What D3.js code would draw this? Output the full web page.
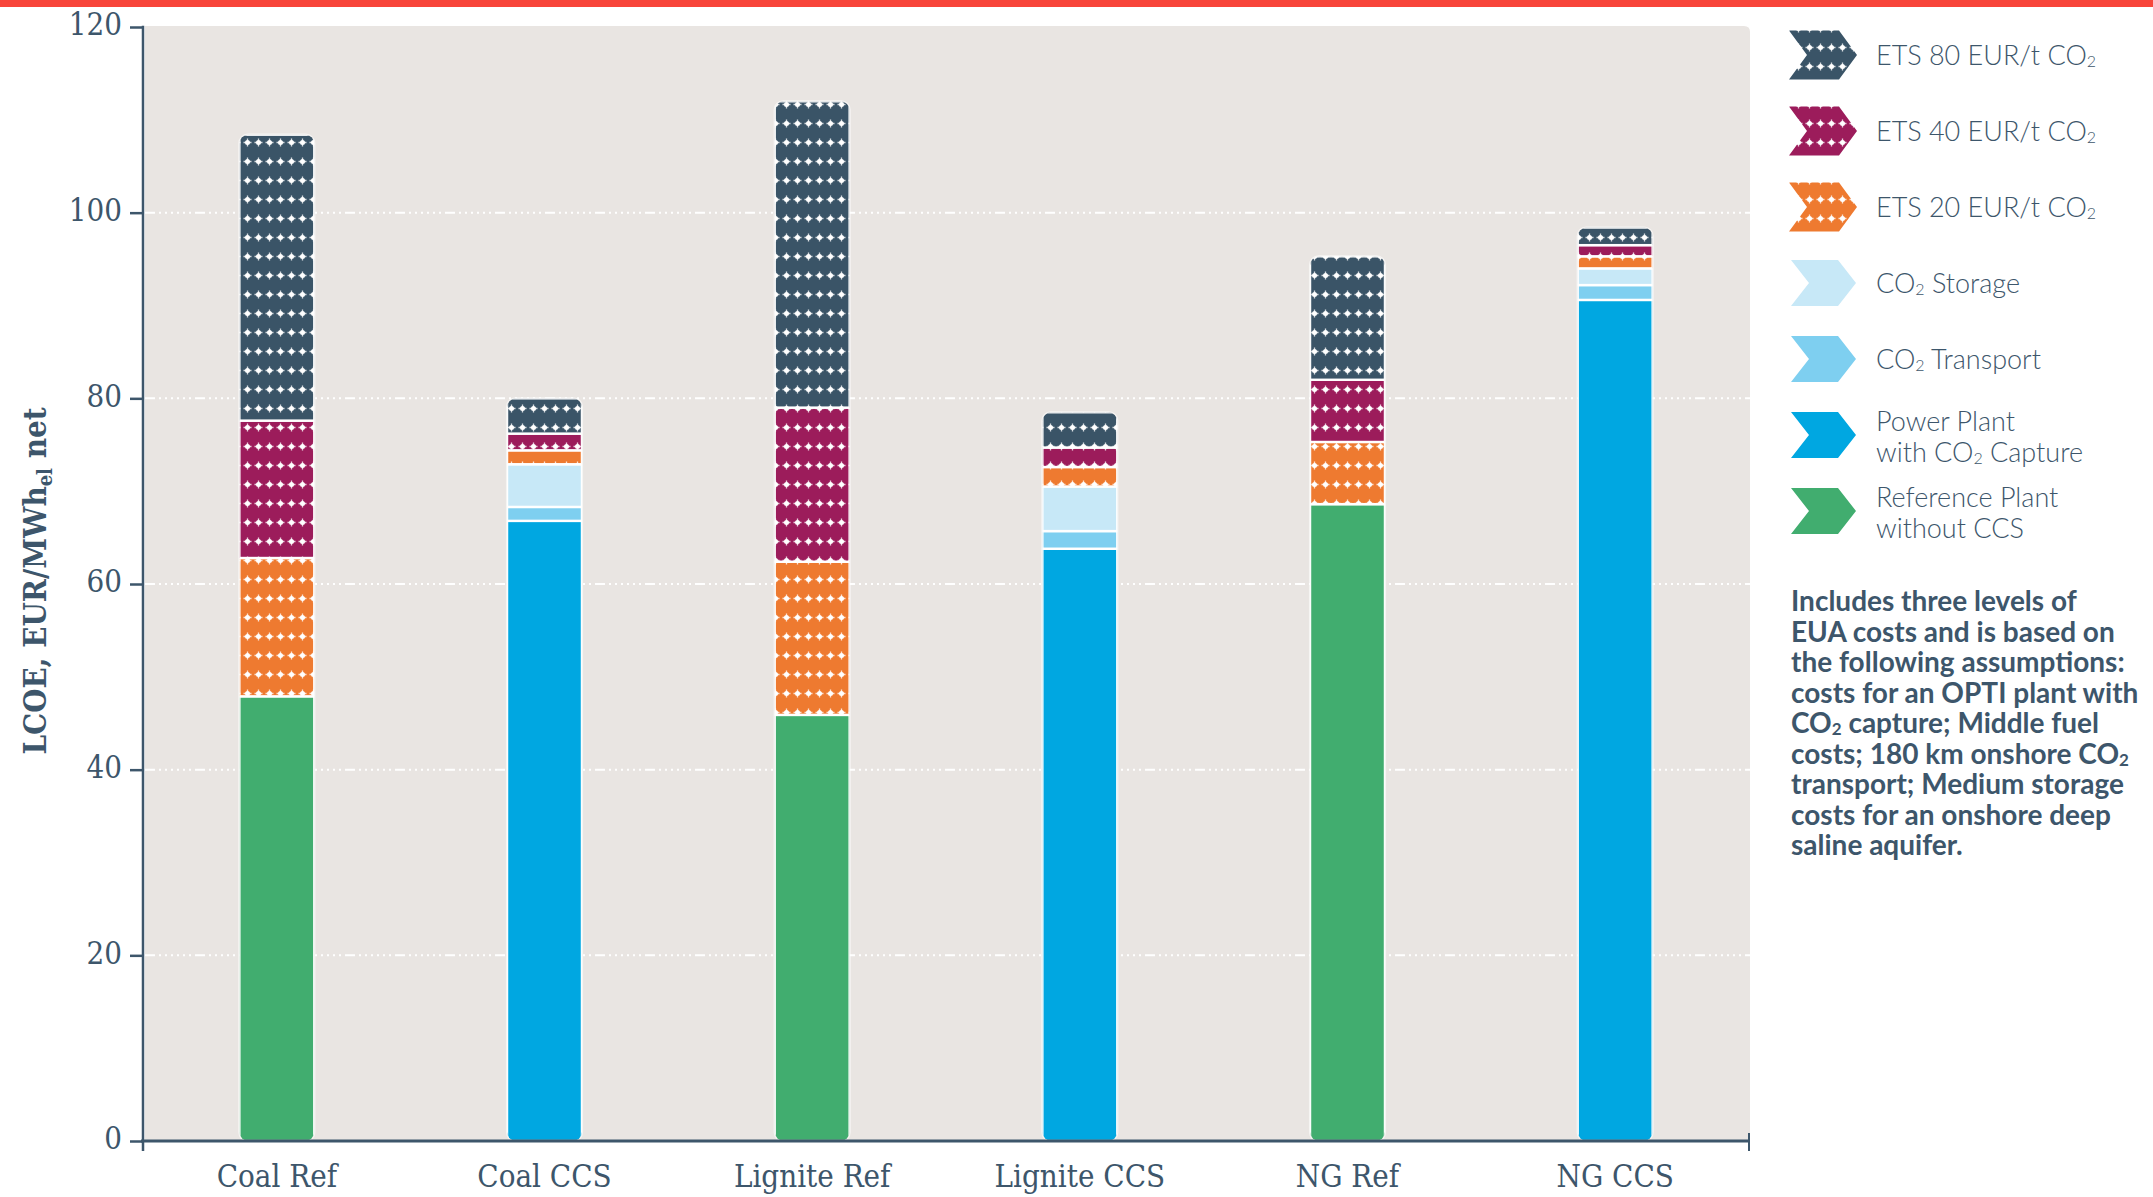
<!DOCTYPE html>
<html>
<head>
<meta charset="utf-8">
<script src="https://cdn.jsdelivr.net/npm/d3@7"></script>
<style>
  html, body { margin: 0; padding: 0; background: #fff; }
  svg { display: block; }
</style>
</head>
<body>
<svg id="chart" width="2153" height="1197"></svg>
<script>
// ---------------- DATA ----------------
const categories = ["Coal Ref", "Coal CCS", "Lignite Ref", "Lignite CCS", "NG Ref", "NG CCS"];
const referencePlant = [47.9, 0, 45.9, 0, 68.6, 0];
const powerPlantCapture = [0, 66.8, 0, 63.8, 0, 90.6];
const co2Transport = [0, 1.5, 0, 1.9, 0, 1.6];
const co2Storage = [0, 4.6, 0, 4.8, 0, 1.8];
const ets20 = [14.9, 1.5, 16.5, 2.1, 6.7, 1.3];
const ets40 = [14.8, 1.8, 16.6, 2.1, 6.7, 1.2];
const ets80 = [30.8, 3.8, 33.0, 3.8, 13.3, 1.9];
const yTicks = [0, 20, 40, 60, 80, 100, 120];
const gridTicks = [20, 40, 60, 80, 100];
const seriesKeys = ["ref", "power", "transport", "storage", "ets20", "ets40", "ets80"];
const legendKeys = ["ets80", "ets40", "ets20", "storage", "transport", "power", "ref"];
const legendLines = [
  [["ETS 80 EUR/t CO", "2"]],
  [["ETS 40 EUR/t CO", "2"]],
  [["ETS 20 EUR/t CO", "2"]],
  [["CO", "2", " Storage"]],
  [["CO", "2", " Transport"]],
  [["Power Plant"], ["with CO", "2", " Capture"]],
  [["Reference Plant"], ["without CCS"]]
];
const noteLines = [
  ["Includes three levels of"],
  ["EUA costs and is based on"],
  ["the following assumptions:"],
  ["costs for an OPTI plant with"],
  ["CO", "2", " capture; Middle fuel"],
  ["costs; 180 km onshore CO", "2"],
  ["transport; Medium storage"],
  ["costs for an onshore deep"],
  ["saline aquifer."]
];
const yLabelParts = ["LCOE, EUR/MWh", "el", " net"];

// ---------------- STYLE ----------------
const colors = {
  ets80: "#3a5467", ets40: "#9c1c5b", ets20: "#ee7a30",
  storage: "#c7e8f7", transport: "#7ecff0", power: "#00a7e1", ref: "#41ad6f"
};
const patterned = new Set(["ets80", "ets40", "ets20"]);
const axisColor = "#3d566b";
const serif = "'DejaVu Serif Condensed', 'DejaVu Serif', serif";
const sans = "Lato, 'Open Sans', sans-serif";

const svg = d3.select("#chart");
const defs = svg.append("defs");

// dot patterns
Object.keys(colors).filter(k => patterned.has(k)).forEach(k => {
  const p = defs.append("pattern").attr("id", "pat-" + k)
    .attr("patternUnits", "userSpaceOnUse").attr("width", 11).attr("height", 19);
  p.append("rect").attr("width", 11).attr("height", 19).attr("fill", colors[k]);
  p.append("circle").attr("cx", 5.5).attr("cy", 9.5).attr("r", 2.5).attr("fill", "#fff");
  p.append("path").attr("d", "M1.5,9.5H9.5M5.5,5.5V13.5").attr("stroke", "#fff").attr("stroke-width", 1.3).attr("opacity", 0.8);
});
const fillFor = k => patterned.has(k) ? `url(#pat-${k})` : colors[k];

// top red band
svg.append("rect").attr("x", 0).attr("y", 0).attr("width", 2153).attr("height", 7).attr("fill", "#f8453a");

// scales
const y = d3.scaleLinear().domain([0, 120]).range([1141, 27]);
const x = d3.scaleBand().domain(categories).range([143, 1749]).paddingInner(0.72).paddingOuter(0.36);

// plot background
svg.append("path")
  .attr("d", `M145,${y(120) - 1}H1744Q1750,${y(120) - 1} 1750,${y(120) + 5}V${y(0)}H145Z`)
  .attr("fill", "#e9e5e2");

// gridlines
svg.append("g").selectAll("line").data(gridTicks).join("line")
  .attr("x1", 145).attr("x2", 1750)
  .attr("y1", d => y(d)).attr("y2", d => y(d))
  .attr("stroke", "#fff").attr("stroke-width", 2)
  .attr("stroke-dasharray", "10,4,2,4,2,4,2,4,2,4,2,4,2,4");

// stacked data
const rows = categories.map((c, i) => ({
  cat: c, ref: referencePlant[i], power: powerPlantCapture[i], transport: co2Transport[i],
  storage: co2Storage[i], ets20: ets20[i], ets40: ets40[i], ets80: ets80[i]
}));
const stacked = d3.stack().keys(seriesKeys)(rows);

const barsG = svg.append("g");
rows.forEach((r, i) => {
  const total = d3.sum(seriesKeys, k => r[k]);
  const x0 = x(r.cat), w = x.bandwidth();
  const top = y(total), bot = y(0);
  const cid = "clip-" + i;
  defs.append("clipPath").attr("id", cid).append("rect")
    .attr("x", x0).attr("y", top).attr("width", w).attr("height", bot - top).attr("rx", 9).attr("ry", 9);
  const g = barsG.append("g").attr("clip-path", `url(#${cid})`);
  stacked.forEach(s => {
    const d = s[i];
    if (d[1] - d[0] <= 0) return;
    g.append("rect")
      .attr("x", x0).attr("width", w)
      .attr("y", y(d[1])).attr("height", y(d[0]) - y(d[1]))
      .attr("fill", fillFor(s.key))
      .attr("stroke", "#fff").attr("stroke-width", 2.4);
  });
  barsG.append("rect")
    .attr("x", x0 - 0.5).attr("y", top - 0.5).attr("width", w + 1).attr("height", bot - top + 1)
    .attr("rx", 9).attr("ry", 9)
    .attr("fill", "none").attr("stroke", "#fff").attr("stroke-opacity", 0.6).attr("stroke-width", 1.2);
});

// y axis
const yAxis = d3.axisLeft(y).tickValues(yTicks).tickSize(13).tickPadding(8).tickFormat(d3.format("d"));
const yg = svg.append("g").attr("transform", "translate(143,0)").call(yAxis);
yg.select(".domain").remove();
yg.selectAll(".tick line").attr("stroke", axisColor).attr("stroke-width", 2.5);
yg.selectAll(".tick text").attr("fill", axisColor).attr("font-family", serif).attr("font-size", 31)
  .attr("dy", "0.25em");
svg.append("line").attr("x1", 143).attr("x2", 143).attr("y1", y(120) - 1.2).attr("y2", y(0) + 10)
  .attr("stroke", axisColor).attr("stroke-width", 2.5);

// x axis
const xAxis = d3.axisBottom(x).tickSize(0).tickPadding(0);
const xg = svg.append("g").attr("transform", `translate(0,${y(0)})`).call(xAxis);
xg.select(".domain").remove();
xg.selectAll(".tick text").attr("fill", axisColor).attr("font-family", serif).attr("font-size", 31)
  .attr("dy", 0).attr("y", 46);
svg.append("line").attr("x1", 141).attr("x2", 1749).attr("y1", y(0)).attr("y2", y(0))
  .attr("stroke", axisColor).attr("stroke-width", 3);
svg.append("line").attr("x1", 1749).attr("x2", 1749).attr("y1", y(0) - 8).attr("y2", y(0) + 10)
  .attr("stroke", axisColor).attr("stroke-width", 2);

// y label
const yl = svg.append("text")
  .attr("transform", `translate(46,581) rotate(-90)`)
  .attr("text-anchor", "middle").attr("fill", axisColor)
  .attr("font-family", serif).attr("font-weight", 700).attr("font-size", 31);
yl.append("tspan").text(yLabelParts[0]);
yl.append("tspan").text(yLabelParts[1]).attr("font-size", 20).attr("dy", 6);
yl.append("tspan").text(yLabelParts[2]).attr("dy", -6);

// legend
const lg = svg.append("g");
legendKeys.forEach((k, i) => {
  const cy = 55 + i * 76;
  const big = patterned.has(k);
  const ix = big ? 1789 : 1791, iw = big ? 68 : 65, ih = big ? 49 : 46, nd = 18;
  lg.append("path")
    .attr("d", `M${ix},${cy - ih / 2}H${ix + iw - nd}L${ix + iw},${cy}L${ix + iw - nd},${cy + ih / 2}H${ix}L${ix + nd},${cy}Z`)
    .attr("fill", fillFor(k));
  const lines = legendLines[i];
  lines.forEach((parts, j) => {
    const base = lines.length === 1 ? cy + 10 : cy - 4 + j * 31;
    const t = lg.append("text").attr("x", 1876).attr("y", base)
      .attr("fill", axisColor).attr("font-family", sans).attr("font-weight", 300).attr("font-size", 27);
    parts.forEach(p => {
      if (p === "2") {
        t.append("tspan").text(p).attr("font-size", 16).attr("dy", 2);
      } else {
        const ts = t.append("tspan").text(p);
        if (t.selectAll("tspan").size() > 1) ts.attr("dy", -2);
      }
    });
  });
});

// note
const ng = svg.append("g");
noteLines.forEach((parts, i) => {
  const t = ng.append("text").attr("x", 1791).attr("y", 611 + i * 30.5)
    .attr("fill", axisColor).attr("font-family", sans).attr("font-weight", 700).attr("font-size", 28);
  parts.forEach((p, j) => {
    if (p === "2") t.append("tspan").text(p).attr("font-size", 17).attr("dy", 2);
    else {
      const ts = t.append("tspan").text(p);
      if (j > 0) ts.attr("dy", -2);
    }
  });
});
</script>
</body>
</html>
